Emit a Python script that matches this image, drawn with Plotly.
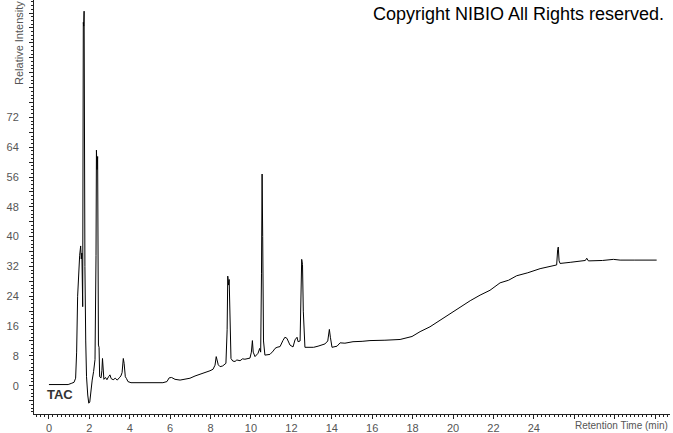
import plotly.graph_objects as go

# Retention time (min) and relative intensity
rt = [0.00, 0.50, 0.95, 1.10, 1.24, 1.32, 1.37, 1.42, 1.47, 1.52, 1.57, 1.60, 1.63, 1.67,
      1.70, 1.72, 1.74, 1.76, 1.78, 1.82, 1.86, 1.92, 1.97, 2.02, 2.07, 2.14, 2.21, 2.28,
      2.33, 2.35, 2.38, 2.41, 2.43, 2.45, 2.48, 2.51, 2.58, 2.62, 2.65, 2.68, 2.72, 2.80,
      2.87, 2.95, 3.02, 3.08, 3.18, 3.28, 3.38, 3.48, 3.56, 3.62, 3.68, 3.72, 3.78, 3.84,
      3.91, 4.06, 4.30, 5.00, 5.64, 5.84, 5.95, 6.07, 6.24, 6.49, 6.75, 6.98, 7.23, 7.40,
      7.56, 7.72, 7.97, 8.12, 8.22, 8.28, 8.32, 8.38, 8.47, 8.60, 8.76, 8.82, 8.85, 8.89,
      8.92, 8.96, 9.01, 9.10, 9.21, 9.30, 9.46, 9.58, 9.70, 9.95, 10.02, 10.07, 10.11,
      10.20, 10.35, 10.43, 10.48, 10.52, 10.55, 10.58, 10.62, 10.69, 10.94, 11.10, 11.19,
      11.29, 11.44, 11.58, 11.68, 11.78, 11.93, 12.08, 12.18, 12.28, 12.33, 12.43, 12.48,
      12.51, 12.55, 12.59, 12.67, 12.92, 13.10, 13.32, 13.66, 13.80, 13.88, 13.93, 14.01,
      14.26, 14.41, 14.65, 15.05, 15.50, 15.89, 16.63, 17.38, 17.97, 18.37, 18.86, 19.36,
      19.85, 20.35, 20.85, 21.34, 21.83, 22.33, 22.75, 23.15, 23.70, 24.31, 24.80, 25.13,
      25.18, 25.21, 25.25, 25.30, 25.80, 26.29, 26.55, 26.62, 26.70, 26.78, 27.40, 27.94,
      28.27, 29.00, 30.08]
intensity = [0.3, 0.3, 0.3, 0.6, 0.9, 2.0, 9, 24, 31, 35, 37.5, 34, 35.6, 21.2,
             97.5, 96.5, 100.5, 45, 32, 12, 2.4, -2.5, -4.7, -4.4, -1.0, 1.5, 3.8, 7,
             35, 63.2, 58, 61.5, 25, 10.9, 10.3, 2.4, 2.1, 4.0, 7.3, 2.8, 1.7, 2.2,
             1.6, 2.4, 2.9, 1.9, 1.6, 2.0, 1.5, 2.1, 2.6, 3.5, 7.3, 6.0, 2.4, 1.9,
             1.1, 0.8, 0.8, 0.8, 0.8, 1.1, 2.1, 2.2, 1.7, 1.5, 1.7, 2.0, 2.6, 2.9,
             3.1, 3.5, 4.0, 4.4, 5.5, 7.8, 7.0, 5.6, 5.1, 5.3, 6.0, 15, 29.4, 27,
             28.5, 15, 7.3, 6.6, 6.5, 6.9, 6.7, 7.2, 7.1, 7.4, 9, 12.1, 9,
             7.8, 8.7, 10.0, 9.0, 30, 56.8, 40, 12, 8.2, 8.4, 9.3, 10.0,
             10.3, 10.5, 12.1, 13.0, 12.7, 10.9, 10.4, 12.3, 13.0, 11.8, 12.0, 22,
             33.9, 32.5, 20, 10.3, 10.4, 10.3, 10.6, 11.2, 12, 15.1, 13, 10.3,
             10.6, 11.5, 11.4, 11.8, 11.9, 12.1, 12.2, 12.4, 13.2, 14.5, 15.8, 17.6,
             19.3, 21.0, 22.8, 24.3, 25.6, 27.6, 28.3, 29.5, 30.3, 31.4, 32.0, 32.4,
             36.5, 37.2, 33.5, 32.8, 33.1, 33.4, 33.6, 34.2, 33.5, 33.5, 33.6, 33.9,
             33.7, 33.7, 33.7]

x_tickvals = list(range(0, 31, 2))
x_ticktext = ["0", "2", "4", "6", "8", "10", "12", "14", "16", "18", "20", "22", "24", "", "", ""]
y_tickvals = list(range(-4, 101, 4))
y_ticktext = [str(v) if (0 <= v <= 72 and v % 8 == 0) else "" for v in y_tickvals]

title_text = "Copyright NIBIO All Rights reserved."
x_title = "Retention Time (min)"
y_title = "Relative Intensity"
trace_label = "TAC"

FONT = "Liberation Sans, Arial, sans-serif"
AXIS_COLOR = "#222222"
LABEL_COLOR = "#555555"

fig = go.Figure()
fig.add_trace(go.Scatter(x=rt, y=intensity, mode="lines",
                         line=dict(color="black", width=1), hoverinfo="skip",
                         showlegend=False))

fig.update_layout(
    width=673, height=433,
    margin=dict(l=34, r=3, t=0, b=19),
    paper_bgcolor="white", plot_bgcolor="white",
    font=dict(family=FONT, size=11, color=LABEL_COLOR),
    xaxis=dict(range=[-0.74, 30.74], showgrid=False, zeroline=False,
               showline=True, linecolor=AXIS_COLOR, linewidth=1,
               ticks="outside", ticklen=4, tickcolor=AXIS_COLOR,
               tickmode="array", tickvals=x_tickvals, ticktext=x_ticktext,
               tickfont=dict(size=11, color=LABEL_COLOR),
               minor=dict(dtick=0.2, tick0=0, ticks="outside", ticklen=2,
                          tickcolor=AXIS_COLOR, showgrid=False)),
    yaxis=dict(range=[-7.6, 103.5], showgrid=False, zeroline=False,
               showline=True, linecolor=AXIS_COLOR, linewidth=1,
               ticks="outside", ticklen=4, tickcolor=AXIS_COLOR,
               tickmode="array", tickvals=y_tickvals, ticktext=y_ticktext,
               tickfont=dict(size=11, color=LABEL_COLOR),
               ticklabelstandoff=8,
               minor=dict(dtick=1, tick0=0, ticks="outside", ticklen=2,
                          tickcolor=AXIS_COLOR, showgrid=False)),
    annotations=[
        dict(text=title_text, xref="paper", yref="paper", x=0.9937, y=0.966,
             xanchor="right", yanchor="middle", showarrow=False,
             font=dict(family=FONT, size=18, color="black")),
        dict(text=x_title, xref="paper", yref="paper", x=1.0, y=-0.027,
             xanchor="right", yanchor="middle", showarrow=False,
             font=dict(family=FONT, size=10, color=LABEL_COLOR)),
        dict(text=y_title, xref="paper", yref="paper", x=-0.0236, y=1.0,
             xanchor="center", yanchor="top", showarrow=False, textangle=-90,
             borderpad=0,
             font=dict(family=FONT, size=11, color=LABEL_COLOR)),
        dict(text="<b>" + trace_label + "</b>", xref="x", yref="y", x=0.54, y=-2.3,
             xanchor="center", yanchor="middle", showarrow=False,
             font=dict(family=FONT, size=13, color="#333333")),
    ],
)

fig.write_html("out.html",
               config={"displayModeBar": False},
               post_script="document.body.style.margin='0';document.body.style.overflow='hidden';")
